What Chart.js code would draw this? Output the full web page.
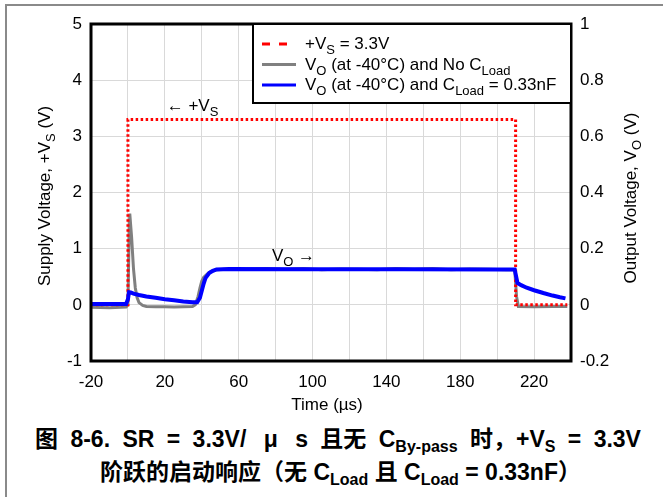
<!DOCTYPE html>
<html>
<head>
<meta charset="utf-8">
<script src="https://cdn.jsdelivr.net/npm/chart.js@4.4.0/dist/chart.umd.min.js"></script>
<style>
  body { margin: 0; background: #fff; }
  #wrap { position: relative; width: 663px; height: 497px; overflow: hidden; }
  #frame { position: absolute; left: 5px; top: 4px; width: 700px; height: 600px;
           border-top: 2px solid #8a8a8a; border-left: 2px solid #8a8a8a; }
  #chart { position: absolute; left: 0; top: 0; }
  .cap { position: absolute; left: 0; width: 676px; white-space: nowrap; color: #000; text-align: center;
         font: bold 23px "Liberation Sans", "Noto Sans CJK SC", sans-serif; line-height: 33px; }
  #cap1 { top: 423px; word-spacing: 6px; }
  #cap1 .mu { margin: 0 5px; }
  #cap2 { top: 456px; left: 9px; width: 663px; }
  .cap sub { font-size: 16px; vertical-align: -5px; line-height: 0; word-spacing: 0; }
</style>
</head>
<body>
<div id="wrap">
  <div id="frame"></div>
  <canvas id="chart" width="663" height="415"></canvas>
  <div class="cap" id="cap1">图 8-6. SR = 3.3V/ <span class="mu">μ</span> s 且无 C<sub>By-pass</sub> 时，+V<sub>S</sub> = 3.3V</div>
  <div class="cap" id="cap2">阶跃的启动响应（无 C<sub>Load</sub> 且 C<sub>Load</sub> = 0.33nF）</div>
</div>
<script>
// supply step (left axis, V)
const vsTime = [-20, 0, 0, 210, 210, 238];
const vsValues = [0, 0, 3.3, 3.3, 0, 0];

// output, no load cap (right axis, V)
const noLoadTime = [-20, -10, -1, 0, 0.5, 1, 2, 3, 4, 5, 6, 8, 10, 15, 20, 25, 30, 35, 36.5,
  38, 39, 40, 41, 43, 45, 48, 55, 65, 75, 85, 95, 105, 115, 125, 135, 145, 155, 165, 175, 185,
  195, 205, 209.5, 210.5, 211.5, 220, 230, 238];
const noLoadValues = [-0.009, -0.01, -0.008, 0.0, 0.2, 0.325, 0.24, 0.13, 0.06, 0.025, 0.008, -0.002,
  -0.006, -0.007, -0.007, -0.008, -0.007, -0.006, 0.0, 0.03, 0.06, 0.085, 0.098, 0.11, 0.119, 0.125,
  0.128, 0.126, 0.129, 0.126, 0.129, 0.125, 0.128, 0.127, 0.125, 0.129, 0.127, 0.129, 0.125, 0.128,
  0.127, 0.125, 0.126, 0.03, -0.006, -0.007, -0.006, -0.006];

// output, CLoad = 0.33nF (right axis, V)
const loadTime = [-20, -1, 0, 0.6, 1.5, 3, 6, 10, 15, 20, 25, 30, 35, 37.5, 39, 40, 41, 42, 44,
  46, 48, 55, 100, 150, 200, 209.5, 211, 213, 216, 220, 225, 230, 234, 237];
const loadValues = [0.003, 0.003, 0.02, 0.045, 0.044, 0.04, 0.035, 0.03, 0.025, 0.02, 0.016, 0.012,
  0.009, 0.009, 0.025, 0.05, 0.075, 0.095, 0.113, 0.121, 0.126, 0.128, 0.127, 0.127, 0.126, 0.126,
  0.078, 0.07, 0.061, 0.052, 0.042, 0.033, 0.027, 0.023];

const xTicks = [-20, 20, 60, 100, 140, 180, 220];

const FONT = '"Liberation Sans", Arial, sans-serif';
const FS = 17;

function toPoints(xs, ys) {
    return xs.map((x, i) => ({ x: x, y: ys[i] }));
}

// draws text with subscript parts, returns end x
function drawRich(ctx, parts, x, y, size) {
    let cx = x;
    parts.forEach(p => {
        const s = p.sub ? Math.round(size * 0.78) : size;
        ctx.font = s + 'px ' + FONT;
        ctx.fillText(p.t, cx, y + (p.sub ? size * 0.3 : 0));
        cx += ctx.measureText(p.t).width;
    });
    return cx;
}

function richWidth(ctx, parts, size) {
    let w = 0;
    parts.forEach(p => {
        const s = p.sub ? Math.round(size * 0.78) : size;
        ctx.font = s + 'px ' + FONT;
        w += ctx.measureText(p.t).width;
    });
    return w;
}

const decorPlugin = {
    id: 'decor',
    afterDatasetsDraw(chart) {
        const { ctx, chartArea: a } = chart;
        ctx.save();
        ctx.strokeStyle = '#000';
        ctx.lineWidth = 3;
        ctx.strokeRect(a.left, a.top, a.right - a.left, a.bottom - a.top);
        ctx.restore();
    },
    afterDraw(chart) {
        const { ctx, chartArea: a, scales } = chart;
        ctx.save();
        ctx.textBaseline = 'alphabetic';

        // legend box
        const lx = 253, ly = a.top, lw = a.right - 253, lh = 79;
        ctx.fillStyle = '#fff';
        ctx.fillRect(lx, ly, lw, lh);
        ctx.strokeStyle = '#000';
        ctx.lineWidth = 2;
        ctx.strokeRect(lx, ly, lw, lh);

        const rows = [
            { color: '#ff0000', dash: [8, 9], parts: [{ t: '+V' }, { t: 'S', sub: true }, { t: ' = 3.3V' }] },
            { color: '#808080', dash: [], parts: [{ t: 'V' }, { t: 'O', sub: true }, { t: ' (at -40°C) and No C' }, { t: 'Load', sub: true }] },
            { color: '#0000ff', dash: [], parts: [{ t: 'V' }, { t: 'O', sub: true }, { t: ' (at -40°C) and C' }, { t: 'Load', sub: true }, { t: ' = 0.33nF' }] }
        ];
        rows.forEach((r, i) => {
            const base = ly + 25 + i * 20.5;
            ctx.beginPath();
            ctx.strokeStyle = r.color;
            ctx.lineWidth = 3;
            ctx.setLineDash(r.dash);
            ctx.moveTo(262, base - 5);
            ctx.lineTo(296, base - 5);
            ctx.stroke();
            ctx.setLineDash([]);
            ctx.fillStyle = '#000';
            drawRich(ctx, r.parts, 305, base, FS);
        });

        // in-plot labels
        const x = scales.x, y = scales.y, y1 = scales.y1;
        ctx.fillStyle = '#000';
        drawRich(ctx, [{ t: '← +V' }, { t: 'S', sub: true }], x.getPixelForValue(21), y.getPixelForValue(3.45), FS);
        drawRich(ctx, [{ t: 'V' }, { t: 'O', sub: true }, { t: ' →' }], x.getPixelForValue(78), y1.getPixelForValue(0.155), FS);

        // axis titles
        const leftT = [{ t: 'Supply Voltage, +V' }, { t: 'S', sub: true }, { t: ' (V)' }];
        const rightT = [{ t: 'Output Voltage, V' }, { t: 'O', sub: true }, { t: ' (V)' }];
        ctx.save();
        ctx.translate(50, 196);
        ctx.rotate(-Math.PI / 2);
        drawRich(ctx, leftT, -richWidth(ctx, leftT, FS) / 2, 0, FS);
        ctx.restore();
        ctx.save();
        ctx.translate(636, 198);
        ctx.rotate(-Math.PI / 2);
        drawRich(ctx, rightT, -richWidth(ctx, rightT, FS) / 2, 0, FS);
        ctx.restore();

        ctx.font = FS + 'px ' + FONT;
        ctx.textAlign = 'center';
        ctx.fillText('Time (µs)', 327, 410);
        ctx.restore();
    }
};

const tickFont = { family: FONT, size: FS };

new Chart(document.getElementById('chart'), {
    type: 'line',
    data: {
        datasets: [
            {
                label: 'Vs',
                data: toPoints(vsTime, vsValues),
                yAxisID: 'y',
                borderColor: '#ff0000',
                borderWidth: 3,
                borderDash: [2.5, 2.5],
                pointRadius: 0,
                order: 1
            },
            {
                label: 'Vo no load',
                data: toPoints(noLoadTime, noLoadValues),
                yAxisID: 'y1',
                borderColor: '#808080',
                borderWidth: 3,
                pointRadius: 0,
                order: 2
            },
            {
                label: 'Vo load',
                data: toPoints(loadTime, loadValues),
                yAxisID: 'y1',
                borderColor: '#0000ff',
                borderWidth: 4,
                pointRadius: 0,
                order: 0
            }
        ]
    },
    options: {
        responsive: false,
        devicePixelRatio: 1,
        animation: false,
        layout: { padding: { top: 24, left: 0, right: 0, bottom: 0 } },
        plugins: {
            legend: { display: false },
            tooltip: { enabled: false }
        },
        scales: {
            x: {
                type: 'linear',
                min: -20,
                max: 240,
                grid: { color: '#d9d9d9', drawTicks: false },
                border: { display: false },
                ticks: {
                    stepSize: 20,
                    autoSkip: false,
                    maxRotation: 0,
                    padding: 11,
                    color: '#000',
                    font: tickFont,
                    callback: v => xTicks.includes(v) ? String(v) : ''
                },
                afterFit: s => { s.height = 54; }
            },
            y: {
                position: 'left',
                min: -1,
                max: 5,
                grid: { color: '#d9d9d9', drawTicks: false },
                border: { display: false },
                ticks: {
                    stepSize: 1,
                    padding: 9,
                    color: '#000',
                    font: tickFont
                },
                afterFit: s => { s.width = 91; }
            },
            y1: {
                position: 'right',
                min: -0.2,
                max: 1,
                grid: { display: false, drawTicks: false },
                border: { display: false },
                ticks: {
                    stepSize: 0.2,
                    padding: 9,
                    color: '#000',
                    font: tickFont,
                    callback: v => String(Math.round(v * 10) / 10)
                },
                afterFit: s => { s.width = 92; }
            }
        }
    },
    plugins: [decorPlugin]
});
</script>
</body>
</html>
